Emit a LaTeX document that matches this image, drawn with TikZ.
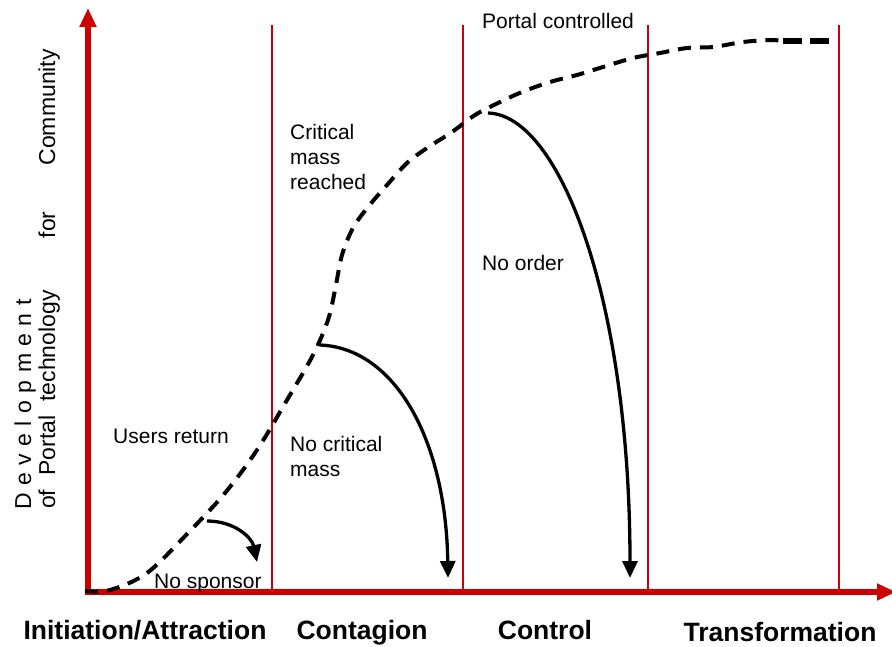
\documentclass[tikz,border=0pt]{standalone}
\usepackage{fontspec}
\setmainfont{Liberation Sans}
\usetikzlibrary{arrows.meta}

\definecolor{axisred}{RGB}{204,0,0}

\begin{document}
\begin{tikzpicture}[x=1pt, y=-1pt,
  every node/.style={font=\fontsize{21}{25}\selectfont, inner sep=0pt},
  phase/.style={font=\fontsize{26.5}{30}\selectfont\bfseries, anchor=base},
  note/.style={anchor=base west, align=left},
  ytitle/.style={font=\fontsize{23}{27}\selectfont, rotate=90, anchor=base west},
  axis/.style={line width=5.5pt, axisred, -{Triangle[length=19pt,width=16pt]}},
  divider/.style={line width=1.5pt, axisred},
  growth/.style={line width=4pt, dash pattern=on 13pt off 9pt},
  drop/.style={line width=3.3pt, -{Triangle[length=17pt,width=15pt]}}
]
\useasboundingbox (0,0) rectangle (892,646);

% axes
\coordinate (origin) at (88,592);
\coordinate (ytop) at (88,8);
\coordinate (xend) at (896,592);
\foreach \x in {272,463,648,839}
  \draw[divider] (\x,25) -- (\x,592);
\draw[axis] ([yshift=2pt]origin) -- (ytop);
\draw[axis] ([xshift=-3pt]origin) -- (xend);

% axis title
\node[ytitle] (devel) at (31,510)
  {\spaceskip=7.5pt D e v e l o p m e n t};
\node[ytitle] (portaltech) at (55,509)
  {of\hspace{14pt}Portal\hspace{14pt}technology\hspace{52pt}for\hspace{46pt}Community};

% phases
\node[phase] (initiation) at (145,639) {Initiation/Attraction};
\node[phase] (contagion) at (362,639) {Contagion};
\node[phase] (control) at (545,639) {Control};
\node[phase] (transform) at (780,641) {Transformation};

% growth curve
\draw[growth] plot[smooth, tension=0.55] coordinates {
  (85,591) (110,590) (147,573) (188,533) (225,493) (257,450) (287,400)
  (313,355) (328,320) (335,290) (342,255) (353,228) (368,207) (387,185)
  (407,163) (427,148) (452,132) (475,115) (498,103) (522,92) (550,82)
  (577,75) (603,67) (633,58) (660,53) (687,48) (713,47) (743,42) (770,40)
  (783,41)};
\draw[growth, line width=6pt, dash pattern=on 19pt off 8pt] (783,41) -- (829,41);

% failure paths
\draw[drop] (207,521) .. controls (235,521) and (252,538) .. (257,562);
\draw[drop] (320,345) .. controls (395,348) and (446,440) .. (448,578);
\draw[drop] (488,113) .. controls (560,115) and (630,300) .. (630,578);

% labels
\node[note] (portal) at (482,28) {Portal controlled};
\node[note, anchor=north west] (reached) at (290,124) {Critical\\mass\\reached};
\node[note] (order) at (482,270) {No order};
\node[note] (users) at (113,443) {Users return};
\node[note, anchor=north west] (nomass) at (290,436) {No critical\\mass};
\node[note] (sponsor) at (154,588) {No sponsor};
\end{tikzpicture}
\end{document}
